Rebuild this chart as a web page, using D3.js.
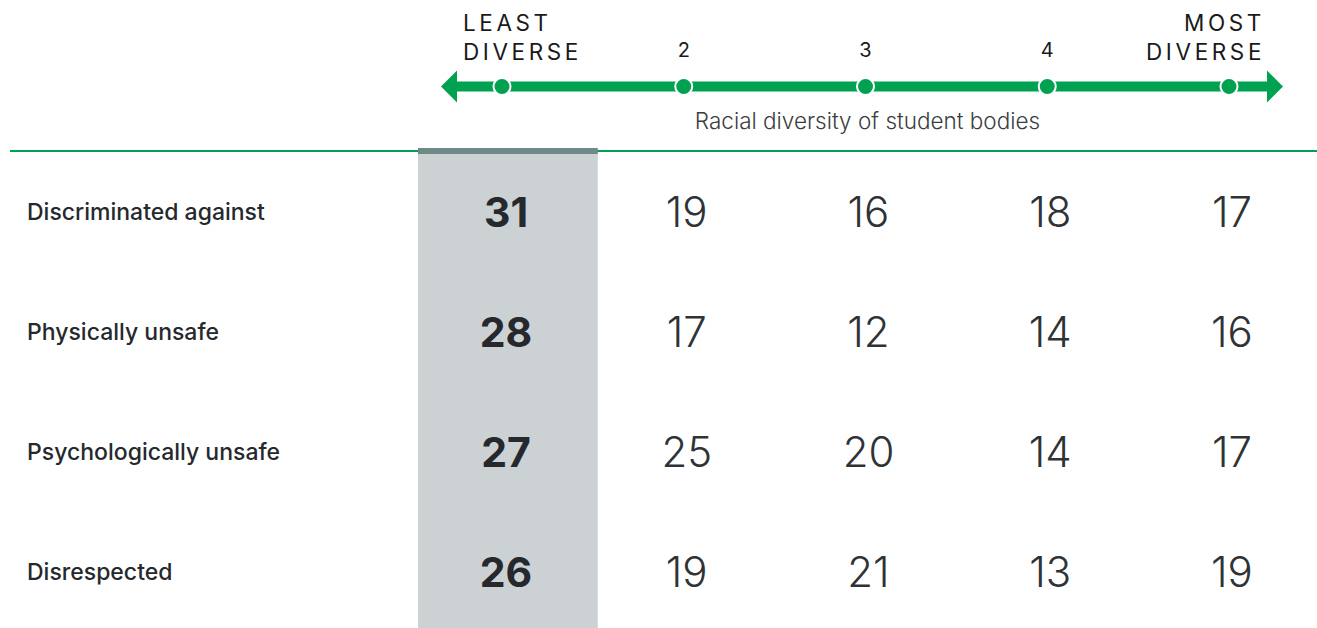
<!DOCTYPE html>
<html><head><meta charset="utf-8">
<script src="https://cdn.jsdelivr.net/npm/d3@7"></script>
<style>
html,body{margin:0;padding:0;background:#fff;}
svg{display:block;font-family:Inter, "Noto Sans", sans-serif;}
</style></head>
<body>
<svg id="c" width="1317" height="628"></svg>
<script>
const categories = ["Discriminated against","Physically unsafe","Psychologically unsafe","Disrespected"];
const levels = [1,2,3,4,5];
const levelLabels = [["LEAST","DIVERSE"],["2"],["3"],["4"],["MOST","DIVERSE"]];
const values = [
  [31,19,16,18,17],
  [28,17,12,14,16],
  [27,25,20,14,17],
  [26,19,21,13,19]
];
const axisTitle = "Racial diversity of student bodies";

const svg = d3.select("#c");
const W = 1317, H = 628;
const green = "#00a151";
const dark = "#25292d";

const x = d3.scalePoint().domain(levels).range([502, 1229]);
const y = d3.scalePoint().domain(categories).range([212, 572]);
const step = x.step();

// highlight band for least diverse column
svg.append("rect").attr("x", x(1) - 84).attr("y", 148).attr("width", step - 2).attr("height", H - 148).attr("fill", "#ccd1d4");
// green rule
svg.append("line").attr("x1", 10).attr("x2", W).attr("y1", 151).attr("y2", 151).attr("stroke", green).attr("stroke-width", 2);
svg.append("rect").attr("x", x(1) - 84).attr("y", 148).attr("width", step - 2).attr("height", 6).attr("fill", "#6d8a86");

// axis arrow
const ay = 86.5;
const lx0 = x(1) - 61, lx1 = x(5) + 54;
svg.append("line").attr("x1", lx0 + 10).attr("x2", lx1 - 10).attr("y1", ay).attr("y2", ay).attr("stroke", green).attr("stroke-width", 10);
svg.append("path").attr("d", `M${lx0},${ay} L${lx0+16},${ay-16} L${lx0+16},${ay+16} Z`).attr("fill", green);
svg.append("path").attr("d", `M${lx1},${ay} L${lx1-16},${ay-16} L${lx1-16},${ay+16} Z`).attr("fill", green);
svg.selectAll("circle.dot").data(levels).join("circle").attr("class","dot")
  .attr("cx", d => x(d)).attr("cy", ay).attr("r", 8.5)
  .attr("fill", green).attr("stroke", "#fff").attr("stroke-width", 2);

// level labels
levels.forEach((lv, i) => {
  const lines = levelLabels[i];
  const t = svg.append("text").attr("fill", "#1a1a1a").attr("font-weight", 400);
  if (lines.length === 1) {
    t.attr("x", x(lv)).attr("y", 57).attr("text-anchor", "middle").attr("font-size", 20).text(lines[0]);
  } else {
    const anchor = i === 0 ? "start" : "end";
    const tx = i === 0 ? x(lv) - 39 : x(lv) + 36;
    t.attr("text-anchor", anchor).attr("font-size", 22.5).attr("letter-spacing", "3.6px");
    lines.forEach((ln, k) => {
      t.append("tspan").attr("x", tx).attr("y", 31 + k * 29).text(ln);
    });
  }
});

svg.append("text").attr("x", x(3) + 2).attr("y", 129).attr("text-anchor", "middle")
  .attr("font-size", 22.5).attr("font-weight", 300).attr("fill", "#3a3d40").text(axisTitle);

// row labels
svg.selectAll("text.cat").data(categories).join("text").attr("class","cat")
  .attr("x", 27).attr("y", d => y(d)).attr("dy", "0.35em")
  .attr("font-size", 23).attr("font-weight", 500).attr("fill", dark).text(d => d);

// values
categories.forEach((c, r) => {
  svg.selectAll(null).data(values[r]).join("text")
    .attr("x", (d, i) => x(levels[i]) + (i === 0 ? 4 : 3))
    .attr("y", y(c)).attr("dy", "0.36em")
    .attr("text-anchor", "middle")
    .attr("font-size", (d, i) => i === 0 ? 41 : 42)
    .attr("font-weight", (d, i) => i === 0 ? 700 : 300)
    .attr("fill", (d, i) => i === 0 ? dark : "#2f3336")
    .text(d => d);
});
</script>
</body></html>
